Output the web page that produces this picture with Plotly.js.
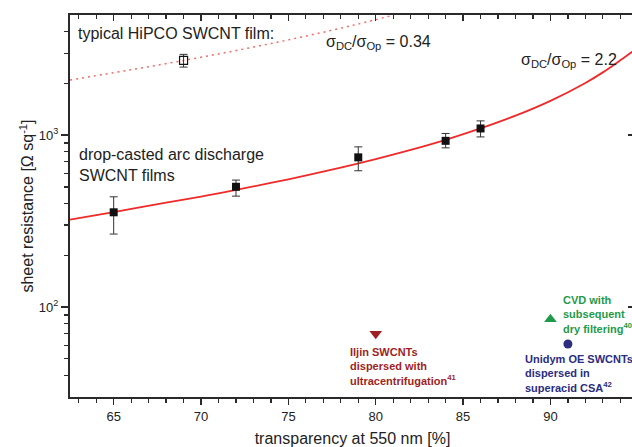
<!DOCTYPE html>
<html>
<head>
<meta charset="utf-8">
<script src="https://cdn.plot.ly/plotly-3.0.1.min.js"></script>
<style>html,body{margin:0;padding:0;background:#fff;overflow:hidden;}#chart{width:635px;height:447px;}</style>
</head>
<body>
<div id="chart"></div>
<script>
// ---- data ----
const arcX = [65, 72, 79, 84, 86];
const arcY = [356, 501, 743, 927, 1094];
const arcErrPlus = [82, 47, 112, 96, 117];
const arcErrMinus = [90, 59, 122, 83, 117];

const hipcoX = [69];
const hipcoY = [2725];
const hipcoErrPlus = [227];
const hipcoErrMinus = [236];

// fit curve sigma_DC/sigma_Op = 2.2
const fitArcX = [62.5, 65, 68, 70, 72, 75, 78, 80, 82, 84, 86, 88, 90, 92, 93, 94, 94.9];
const fitArcY = [323, 357, 405, 439, 480, 554, 648, 726, 821, 940, 1094, 1298, 1584, 2013, 2319, 2727, 3180];

// fit curve sigma_DC/sigma_Op = 0.34
const fitHipcoX = [62.5, 65, 67, 69, 71, 73, 75, 77, 79, 81];
const fitHipcoY = [2093, 2307, 2501, 2720, 2968, 3253, 3584, 3971, 4432, 4990];

const iljinX = [80], iljinY = [70];
const cvdX = [90], cvdY = [85];
const unidymX = [91], unidymY = [61];

const xMajor = [65, 70, 75, 80, 85, 90];
const yMajor = [100, 1000];
const yMajorText = ['10<sup>2</sup>', '10<sup>3</sup>'];
const yMinor = [40, 50, 60, 70, 80, 90, 200, 300, 400, 500, 600, 700, 800, 900, 2000, 3000, 4000];

// ---- layout helpers (pixel -> paper) ----
const W = 635, H = 447, ML = 70, MR = 0, MT = 15, MB = 50;
const pw = W - ML - MR, ph = H - MT - MB;
const PX = p => (p - ML) / pw;
const PY = p => (H - MB - p) / ph;

const xRange = [62.5, 94.84];
const yRange = [Math.log10(30), Math.log10(5000)];
const axisColor = '#2a2a2a';
const font = 'Liberation Sans, Arial, sans-serif';

const traces = [
  {x: fitHipcoX, y: fitHipcoY, mode: 'lines', line: {color: '#f46a6a', width: 1.5, dash: '2px,4px', shape: 'spline'}, hoverinfo: 'skip'},
  {x: fitArcX, y: fitArcY, mode: 'lines', line: {color: '#ee2a2a', width: 1.8, shape: 'spline'}, hoverinfo: 'skip'},
  {x: arcX, y: arcY, mode: 'markers', marker: {symbol: 'square', size: 8, color: '#111'},
   error_y: {type: 'data', symmetric: false, array: arcErrPlus, arrayminus: arcErrMinus, color: '#333', thickness: 1, width: 4}},
  {x: hipcoX, y: hipcoY, mode: 'markers', marker: {symbol: 'square-open', size: 8, color: '#111', line: {width: 1.2}},
   error_y: {type: 'data', symmetric: false, array: hipcoErrPlus, arrayminus: hipcoErrMinus, color: '#333', thickness: 1, width: 4}},
  {x: iljinX, y: iljinY, mode: 'markers', marker: {symbol: 'triangle-down', size: 11, color: '#9e1f24'}},
  {x: cvdX, y: cvdY, mode: 'markers', marker: {symbol: 'triangle-up', size: 11, color: '#1f9a4a'}},
  {x: unidymX, y: unidymY, mode: 'markers', marker: {symbol: 'circle', size: 9, color: '#2b2d7e'}},
  {x: [], y: [], xaxis: 'x2', yaxis: 'y', hoverinfo: 'skip'},
  {x: [], y: [], xaxis: 'x', yaxis: 'y2', hoverinfo: 'skip'}
];

const ann = (text, px, py, size, color, bold) => ({
  text: bold ? '<b>' + text + '</b>' : text,
  xref: 'paper', yref: 'paper', x: PX(px), y: PY(py),
  xanchor: 'left', yanchor: 'top', align: 'left', showarrow: false,
  font: {family: font, size: size, color: color}
});

const layout = {
  width: W, height: H,
  margin: {l: ML, r: MR, t: MT, b: MB},
  paper_bgcolor: '#fff', plot_bgcolor: '#fff',
  showlegend: false,
  font: {family: font, color: '#222'},
  xaxis: {
    range: xRange, tickmode: 'array', tickvals: xMajor,
    ticks: 'outside', ticklen: 6, tickwidth: 1.5, tickcolor: axisColor,
    minor: {dtick: 1, tick0: 0, ticks: 'outside', ticklen: 4, tickwidth: 1.2, tickcolor: axisColor},
    showline: true, linecolor: axisColor, linewidth: 2, showgrid: false, zeroline: false,
    tickfont: {size: 13, color: '#222'},
    title: {text: 'transparency at 550 nm [%]', font: {size: 16, color: '#222'}, standoff: 10}
  },
  xaxis2: {
    overlaying: 'x', side: 'top', anchor: 'y',
    range: xRange, tickmode: 'array', tickvals: xMajor, showticklabels: false,
    ticks: 'inside', ticklen: 6, tickwidth: 1.5, tickcolor: axisColor,
    minor: {dtick: 1, tick0: 0, ticks: 'inside', ticklen: 4, tickwidth: 1.2, tickcolor: axisColor},
    showline: true, linecolor: axisColor, linewidth: 2, showgrid: false, zeroline: false
  },
  yaxis: {
    type: 'log', range: yRange, tickmode: 'array', tickvals: yMajor, ticktext: yMajorText,
    ticks: 'outside', ticklen: 7, tickwidth: 1.5, tickcolor: axisColor,
    minor: {tickvals: yMinor, ticks: 'outside', ticklen: 4, tickwidth: 1.2, tickcolor: axisColor},
    showline: true, linecolor: axisColor, linewidth: 2, showgrid: false, zeroline: false,
    tickfont: {size: 13, color: '#222'},
    title: {text: 'sheet resistance [Ω sq<sup>-1</sup>]', font: {size: 16, color: '#222'}, standoff: 1}
  },
  yaxis2: {
    overlaying: 'y', side: 'right', anchor: 'x', type: 'log', range: yRange,
    tickmode: 'array', tickvals: yMajor, showticklabels: false,
    ticks: 'inside', ticklen: 7, tickwidth: 1.5, tickcolor: axisColor,
    minor: {tickvals: yMinor, ticks: 'inside', ticklen: 3, tickwidth: 1.2, tickcolor: axisColor},
    showline: true, linecolor: axisColor, linewidth: 2, showgrid: false, zeroline: false
  },
  annotations: [
    ann('typical HiPCO SWCNT film:', 76, 23, 16, '#222', false),
    ann('σ<sub>DC</sub>/σ<sub>Op</sub> = 0.34', 324, 31, 16, '#222', false),
    ann('σ<sub>DC</sub>/σ<sub>Op</sub> = 2.2', 519, 49, 16, '#222', false),
    ann('drop-casted arc discharge<br>SWCNT films', 77, 144, 16, '#222', false),
    ann('Iljin SWCNTs<br>dispersed with<br>ultracentrifugation<sup>41</sup>', 348, 344, 11, '#9e1f24', true),
    ann('CVD with<br>subsequent<br>dry filtering<sup>40</sup>', 561, 292, 11, '#1f9a4a', true),
    ann('Unidym OE SWCNTs<br>dispersed in<br>superacid CSA<sup>42</sup>', 523, 351, 11, '#2b2d7e', true)
  ]
};

Plotly.newPlot('chart', traces, layout, {displayModeBar: false, staticPlot: true});
</script>
</body>
</html>
